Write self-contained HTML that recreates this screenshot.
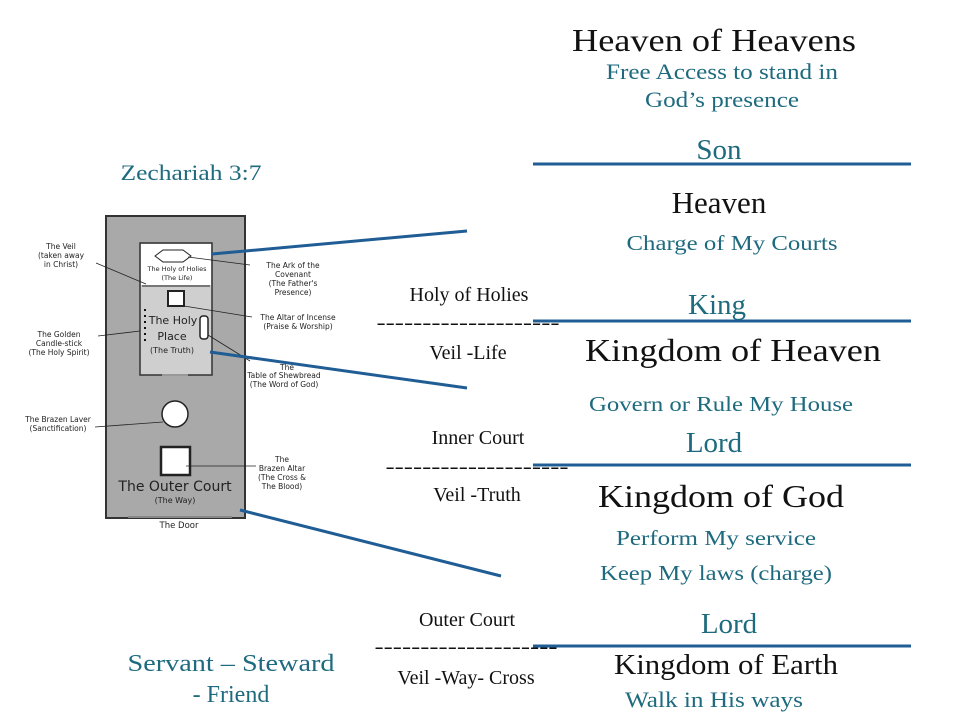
<!DOCTYPE html>
<html><head><meta charset="utf-8"><style>html,body{margin:0;padding:0;background:#fff}svg{display:block}</style></head><body>
<svg width="960" height="720" viewBox="0 0 960 720" xmlns="http://www.w3.org/2000/svg" font-family="Liberation Serif, serif">
<rect width="960" height="720" fill="#fff"/>
<!-- tabernacle -->
<rect x="106" y="216" width="139" height="302" fill="#a9a9a9" stroke="#333" stroke-width="2"/>
<rect x="140" y="243" width="72" height="132" fill="#cfcfcf" stroke="#333" stroke-width="1.5"/>
<rect x="141" y="244" width="70" height="41" fill="#fff"/>
<line x1="142" y1="286" x2="210" y2="286" stroke="#777" stroke-width="2"/>
<line x1="162" y1="375" x2="188" y2="375" stroke="#999" stroke-width="2"/>
<path d="M155,256 L163,250 L183,250 L191,256 L183,262 L163,262 Z" fill="#fff" stroke="#222" stroke-width="1"/>
<rect x="168" y="291" width="16" height="15" fill="#fff" stroke="#222" stroke-width="2"/>
<rect x="200" y="316" width="8" height="23" rx="3" fill="#fff" stroke="#222" stroke-width="1.5"/>
<g fill="#111"><rect x="144" y="309" width="2" height="2"/><rect x="144" y="315" width="2" height="2"/><rect x="144" y="321" width="2" height="2"/><rect x="144" y="327" width="2" height="2"/><rect x="144" y="333" width="2" height="2"/><rect x="144" y="339" width="2" height="2"/></g>
<circle cx="175" cy="414" r="13" fill="#fff" stroke="#222" stroke-width="1.5"/>
<rect x="161" y="447" width="29" height="28" fill="#fff" stroke="#222" stroke-width="2.5"/>
<line x1="128" y1="517" x2="232" y2="517" stroke="#888" stroke-width="2"/>
<g font-family="DejaVu Sans, sans-serif" fill="#222" text-anchor="middle">
<text x="177" y="271" font-size="6.5">The Holy of Holies</text>
<text x="177" y="280" font-size="6.5">(The Life)</text>
<text x="173" y="324" font-size="11">The Holy</text>
<text x="172" y="340" font-size="11">Place</text>
<text x="172" y="353" font-size="8">(The Truth)</text>
<text x="175" y="491" font-size="14">The Outer Court</text>
<text x="175" y="503" font-size="8">(The Way)</text>
<text x="179" y="528" font-size="8.5">The Door</text>
<g font-size="7.5">
<text x="61" y="249">The Veil</text><text x="61" y="258">(taken away</text><text x="61" y="267">in Christ)</text>
<text x="293" y="268">The Ark of the</text><text x="293" y="277">Covenant</text><text x="293" y="286">(The Father's</text><text x="293" y="295">Presence)</text>
<text x="59" y="337">The Golden</text><text x="59" y="346">Candle-stick</text><text x="59" y="355">(The Holy Spirit)</text>
<text x="298" y="320">The Altar of Incense</text><text x="298" y="329">(Praise &amp; Worship)</text>
<text x="287" y="370">The</text><text x="284" y="378">Table of Shewbread</text><text x="284" y="387">(The Word of God)</text>
<text x="58" y="422">The Brazen Laver</text><text x="58" y="431">(Sanctification)</text>
<text x="282" y="462">The</text><text x="282" y="471">Brazen Altar</text><text x="282" y="480">(The Cross &amp;</text><text x="282" y="489">The Blood)</text>
</g></g>
<g stroke="#222" stroke-width="0.8" fill="none">
<line x1="96" y1="263" x2="146" y2="284"/>
<line x1="250" y1="265" x2="188" y2="257"/>
<line x1="252" y1="317" x2="184" y2="306"/>
<line x1="98" y1="336" x2="140" y2="331"/>
<line x1="250" y1="361" x2="208" y2="335"/>
<line x1="95" y1="427" x2="163" y2="422"/>
<line x1="256" y1="466" x2="186" y2="466"/>
</g>
<!-- blue connectors -->
<g stroke="#1f5d94" stroke-width="3">
<line x1="212" y1="254" x2="467" y2="231"/>
<line x1="210" y1="352" x2="467" y2="388"/>
<line x1="240" y1="510" x2="501" y2="576"/>
<line x1="533" y1="164" x2="911" y2="164"/>
<line x1="533" y1="321" x2="911" y2="321"/>
<line x1="533" y1="465" x2="911" y2="465"/>
<line x1="533" y1="646" x2="911" y2="646"/>
</g>
<g text-anchor="middle">
<text x="714" y="51" font-size="32" fill="#111" textLength="284" lengthAdjust="spacingAndGlyphs">Heaven of Heavens</text>
<g fill="#1e6a7e" font-size="22">
<text x="722" y="79" textLength="232" lengthAdjust="spacingAndGlyphs">Free Access to stand in</text>
<text x="722" y="107" textLength="154" lengthAdjust="spacingAndGlyphs">God’s presence</text>
<text x="719" y="159" font-size="29">Son</text>
<text x="732" y="250" font-size="21" textLength="211" lengthAdjust="spacingAndGlyphs">Charge of My Courts</text>
<text x="717" y="314" font-size="29">King</text>
<text x="721" y="411" font-size="21" textLength="264" lengthAdjust="spacingAndGlyphs">Govern or Rule My House</text>
<text x="714" y="452" font-size="29">Lord</text>
<text x="716" y="545" font-size="21" textLength="200" lengthAdjust="spacingAndGlyphs">Perform My service</text>
<text x="716" y="580" font-size="21" textLength="232" lengthAdjust="spacingAndGlyphs">Keep My laws (charge)</text>
<text x="729" y="633" font-size="29">Lord</text>
<text x="714" y="707" font-size="22" textLength="178" lengthAdjust="spacingAndGlyphs">Walk in His ways</text>
<text x="191" y="180" font-size="22" textLength="141" lengthAdjust="spacingAndGlyphs">Zechariah 3:7</text>
<text x="231" y="671" font-size="24" textLength="207" lengthAdjust="spacingAndGlyphs">Servant – Steward</text>
<text x="231" y="702" font-size="24">- Friend</text>
</g>
<g fill="#111">
<text x="719" y="213" font-size="31">Heaven</text>
<text x="733" y="361" font-size="32" textLength="296" lengthAdjust="spacingAndGlyphs">Kingdom of Heaven</text>
<text x="721" y="507" font-size="32" textLength="246" lengthAdjust="spacingAndGlyphs">Kingdom of God</text>
<text x="726" y="674" font-size="28" textLength="224" lengthAdjust="spacingAndGlyphs">Kingdom of Earth</text>
<g font-size="20">
<text x="469" y="301">Holy of Holies</text>
<text x="468" y="329" textLength="183" lengthAdjust="spacingAndGlyphs">--------------------</text>
<text x="468" y="359">Veil -Life</text>
<text x="478" y="444">Inner Court</text>
<text x="477" y="473" textLength="183" lengthAdjust="spacingAndGlyphs">--------------------</text>
<text x="477" y="501">Veil -Truth</text>
<text x="467" y="626">Outer Court</text>
<text x="466" y="653" textLength="183" lengthAdjust="spacingAndGlyphs">--------------------</text>
<text x="466" y="684">Veil -Way- Cross</text>
</g></g>
</g>
</svg>
</body></html>
